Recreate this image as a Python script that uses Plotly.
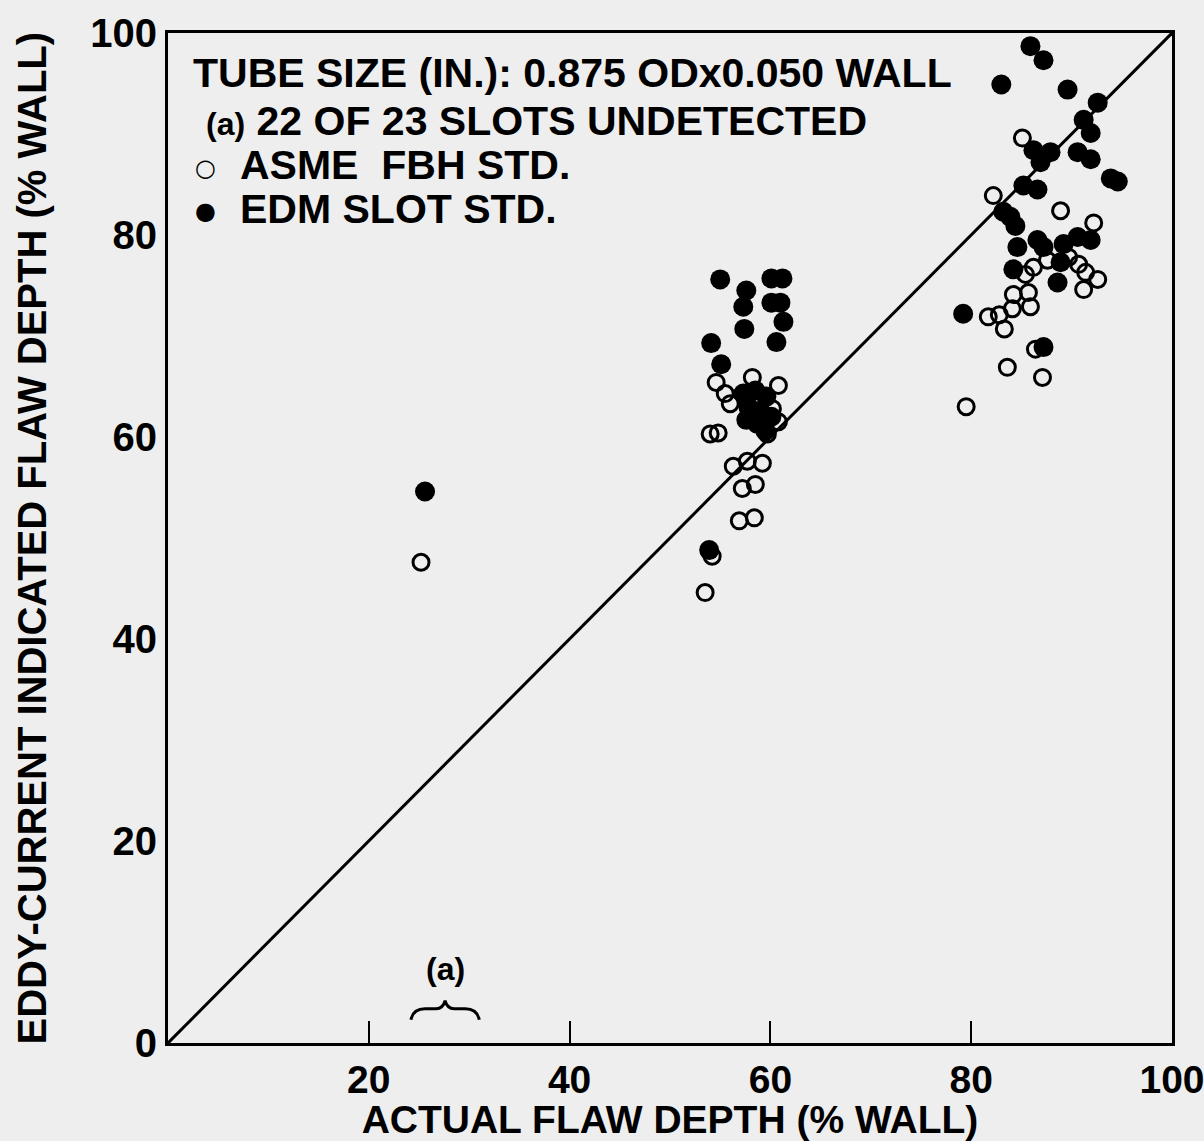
import plotly.graph_objects as go

# ASME FBH standard (open circles): actual depth, indicated depth
asme_x = [25.2, 53.5, 54.2, 56.9, 58.4, 57.2, 58.5, 56.3, 57.7, 59.2, 54.0, 54.8, 59.7,
          54.6, 55.5, 56.0, 58.2, 60.8, 60.2, 60.8,
          79.5, 83.6, 87.1, 86.4, 81.7, 82.8, 83.3, 84.1, 85.9, 84.2, 85.7, 85.4, 86.2,
          87.6, 89.7, 90.7, 91.4, 92.6, 91.2, 88.9, 92.2, 85.1, 82.2]
asme_y = [47.6, 44.6, 48.2, 51.7, 52.0, 54.9, 55.3, 57.1, 57.6, 57.4, 60.3, 60.4, 60.3,
          65.4, 64.3, 63.3, 65.9, 65.1, 62.8, 61.5,
          63.0, 66.9, 65.9, 68.7, 71.9, 72.1, 70.7, 72.7, 72.9, 74.1, 74.3, 76.1, 76.8,
          77.5, 77.8, 77.1, 76.3, 75.6, 74.6, 82.4, 81.2, 89.6, 83.9]

# EDM slot standard (filled circles)
edm_x = [25.6, 53.9, 55.0, 57.6, 57.3, 57.4, 60.1, 61.2, 60.1, 61.0, 61.3, 60.6, 54.1, 55.1,
         57.3, 58.5, 59.6, 57.8, 59.0, 57.6, 58.7, 59.5, 60.1,
         85.9, 87.2, 83.0, 89.6, 92.6, 91.2, 91.9, 90.6, 91.9, 93.9, 94.6, 86.2, 87.9, 86.9,
         85.2, 86.6, 83.2, 83.9, 84.4, 84.6, 86.6, 87.2, 89.2, 90.6, 91.9, 88.9, 84.2, 88.6,
         79.2, 87.2]
edm_y = [54.6, 48.8, 75.6, 74.5, 72.9, 70.7, 75.7, 75.7, 73.3, 73.3, 71.4, 69.4, 69.3, 67.2,
         64.3, 64.6, 64.0, 63.0, 62.6, 61.7, 61.3, 60.6, 62.0,
         98.7, 97.3, 94.9, 94.4, 93.1, 91.4, 90.1, 88.2, 87.5, 85.6, 85.3, 88.4, 88.2, 87.2,
         84.9, 84.5, 82.3, 81.8, 80.9, 78.8, 79.5, 78.8, 79.1, 79.8, 79.5, 77.3, 76.6, 75.3,
         72.2, 68.9]

# Line of perfect agreement
line_x = [0, 100]
line_y = [0, 100]

x_ticks = [20, 40, 60, 80, 100]
y_ticks = [0, 20, 40, 60, 80, 100]

FONT = "Liberation Sans"
BG = "#eeeeee"

fig = go.Figure()
fig.add_trace(go.Scatter(x=line_x, y=line_y, mode="lines",
                         line=dict(color="black", width=3), showlegend=False, hoverinfo="skip"))
fig.add_trace(go.Scatter(x=asme_x, y=asme_y, mode="markers", name="ASME FBH STD.",
                         marker=dict(symbol="circle-open", size=16, color="black",
                                     line=dict(width=3)), showlegend=False))
fig.add_trace(go.Scatter(x=edm_x, y=edm_y, mode="markers", name="EDM SLOT STD.",
                         marker=dict(symbol="circle", size=20, color="black"), showlegend=False))

tf = dict(family=FONT, size=41, color="black", weight="bold")
ann = [
    dict(x=2.3, y=96.0, text="TUBE SIZE (IN.): 0.875 ODx0.050 WALL", xanchor="left"),
    dict(x=3.6, y=91.3, text="<span style='font-size:32px'>(a)</span> 22 OF 23 SLOTS UNDETECTED", xanchor="left"),
    dict(x=3.7, y=86.6, text="○", xanchor="center", font=dict(family="DejaVu Sans", size=24, color="black")),
    dict(x=7.0, y=86.9, text="ASME  FBH STD.", xanchor="left"),
    dict(x=3.7, y=82.4, text="●", xanchor="center", font=dict(family="DejaVu Sans", size=24, color="black")),
    dict(x=7.0, y=82.6, text="EDM SLOT STD.", xanchor="left"),
    dict(x=27.6, y=7.3, text="(a)", xanchor="center", font=dict(family=FONT, size=32, color="black", weight="bold")),
]
annotations = []
for a in ann:
    a.setdefault("font", tf)
    a.update(xref="x", yref="y", showarrow=False, yanchor="middle")
    annotations.append(a)
annotations.append(dict(xref="paper", yref="paper", x=-0.135, y=0.5, xanchor="center", yanchor="middle",
                        textangle=-90, showarrow=False,
                        text="EDDY-CURRENT INDICATED FLAW DEPTH (% WALL)",
                        font=dict(family=FONT, size=40, color="black", weight="bold")))

fig.update_layout(
    width=1204, height=1141,
    margin=dict(l=168, r=32, t=33, b=98),
    paper_bgcolor=BG, plot_bgcolor=BG,
    annotations=annotations,
    shapes=[dict(type="path", xref="x", yref="y",
                 path="M 24.2,2.3 Q 24.4,3.4 25.6,3.4 L 26.7,3.4 Q 27.4,3.4 27.6,4.2 "
                      "Q 27.8,3.4 28.5,3.4 L 29.6,3.4 Q 30.8,3.4 31.0,2.3",
                 line=dict(color="black", width=3))],
    xaxis=dict(range=[0, 100], tickvals=x_ticks, ticktext=[str(v) for v in x_ticks],
               automargin=False,
               showgrid=False, zeroline=False, showline=True, linecolor="black", linewidth=3,
               mirror=True, ticks="inside", ticklen=22, tickwidth=2, tickcolor="black",
               ticklabeloverflow="allow",
               tickfont=dict(family=FONT, size=39, color="black", weight="bold"),
               title=dict(text="ACTUAL FLAW DEPTH (% WALL)", standoff=2,
                          font=dict(family=FONT, size=39, color="black", weight="bold"))),
    yaxis=dict(range=[0, 100], tickvals=y_ticks, ticktext=[str(v) for v in y_ticks],
               automargin=False,
               showgrid=False, zeroline=False, showline=True, linecolor="black", linewidth=3,
               mirror=True, ticks="", ticklen=0, ticklabeloverflow="allow",
               tickfont=dict(family=FONT, size=40, color="black", weight="bold")),
)

fig.write_html("out.html", config={"displayModeBar": False},
               post_script="document.body.style.margin='0';document.body.style.background='#eeeeee';")
